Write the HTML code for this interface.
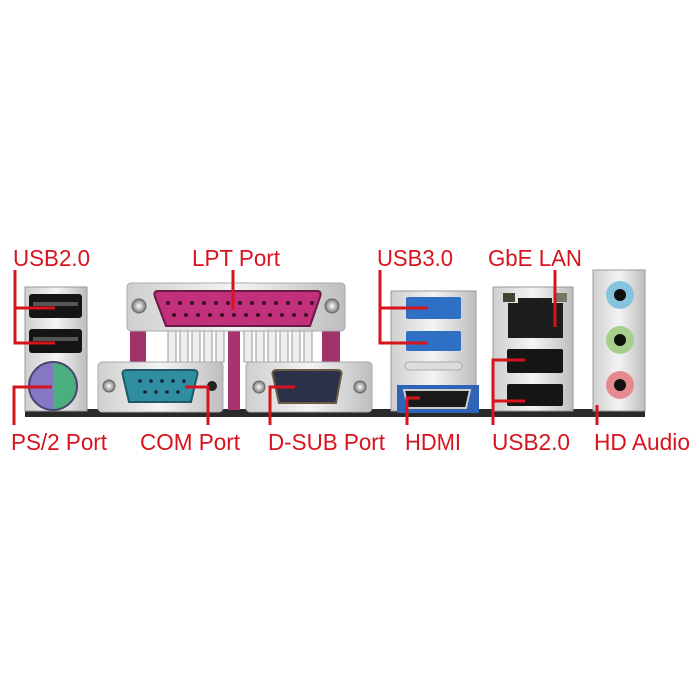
<!DOCTYPE html>
<html><head><meta charset="utf-8"><style>
html,body{margin:0;padding:0;background:#fff;width:700px;height:700px;overflow:hidden}
svg{display:block}
text{font-family:"Liberation Sans",sans-serif;fill:#d7131d;font-size:23px}
</style></head><body>
<svg width="700" height="700" viewBox="0 0 700 700" xmlns="http://www.w3.org/2000/svg">
<defs>
<linearGradient id="sil" x1="0" y1="0" x2="1" y2="0"><stop offset="0" stop-color="#cfcfcf"/><stop offset=".5" stop-color="#f4f4f4"/><stop offset="1" stop-color="#bdbdbd"/></linearGradient>
<radialGradient id="scr"><stop offset="0" stop-color="#fff"/><stop offset=".5" stop-color="#bbb"/><stop offset="1" stop-color="#777"/></radialGradient>
</defs>
<!-- bottom board strip -->
<rect x="25" y="409" width="620" height="8" fill="#2a2a2a"/>
<!-- left USB/PS2 block -->
<rect x="25" y="287" width="62" height="124" fill="url(#sil)" stroke="#999"/>
<rect x="29" y="294" width="53" height="24" rx="3" fill="#151515"/>
<rect x="33" y="302" width="45" height="4" fill="#555"/>
<rect x="29" y="329" width="53" height="24" rx="3" fill="#151515"/>
<rect x="33" y="337" width="45" height="4" fill="#555"/>
<path d="M53 362 A24 24 0 0 0 53 410 Z" fill="#8577c4"/>
<path d="M53 362 A24 24 0 0 1 53 410 Z" fill="#4aae7e"/>
<circle cx="53" cy="386" r="24" fill="none" stroke="#4a4470" stroke-width="2"/>
<!-- LPT -->
<rect x="130" y="330" width="16" height="35" fill="#a0336a"/>
<rect x="228" y="330" width="12" height="80" fill="#a8336e"/>
<rect x="322" y="330" width="18" height="35" fill="#a0336a"/>
<g fill="#eee" stroke="#999" stroke-width="1">
<rect x="168" y="330" width="8" height="32"/><rect x="180" y="330" width="8" height="32"/><rect x="192" y="330" width="8" height="32"/><rect x="204" y="330" width="8" height="32"/><rect x="216" y="330" width="8" height="32"/>
<rect x="244" y="330" width="8" height="32"/><rect x="256" y="330" width="8" height="32"/><rect x="268" y="330" width="8" height="32"/><rect x="280" y="330" width="8" height="32"/><rect x="292" y="330" width="8" height="32"/><rect x="304" y="330" width="8" height="32"/>
</g>
<rect x="127" y="283" width="218" height="48" rx="4" fill="url(#sil)" stroke="#aaa"/>
<circle cx="139" cy="306" r="7" fill="url(#scr)" stroke="#666"/>
<circle cx="332" cy="306" r="7" fill="url(#scr)" stroke="#666"/>
<path d="M158 291 H317 Q322 291 320 297 L310 326 H166 L155 297 Q153 291 158 291 Z" fill="#c2307c" stroke="#6a1a44" stroke-width="2"/>
<g fill="#3b1024">
<circle cx="168" cy="303" r="2"/><circle cx="180" cy="303" r="2"/><circle cx="192" cy="303" r="2"/><circle cx="204" cy="303" r="2"/><circle cx="216" cy="303" r="2"/><circle cx="228" cy="303" r="2"/><circle cx="240" cy="303" r="2"/><circle cx="252" cy="303" r="2"/><circle cx="264" cy="303" r="2"/><circle cx="276" cy="303" r="2"/><circle cx="288" cy="303" r="2"/><circle cx="300" cy="303" r="2"/><circle cx="312" cy="303" r="2"/>
<circle cx="174" cy="315" r="2"/><circle cx="186" cy="315" r="2"/><circle cx="198" cy="315" r="2"/><circle cx="210" cy="315" r="2"/><circle cx="222" cy="315" r="2"/><circle cx="234" cy="315" r="2"/><circle cx="246" cy="315" r="2"/><circle cx="258" cy="315" r="2"/><circle cx="270" cy="315" r="2"/><circle cx="282" cy="315" r="2"/><circle cx="294" cy="315" r="2"/><circle cx="306" cy="315" r="2"/>
</g>
<!-- COM -->
<rect x="98" y="362" width="125" height="50" rx="4" fill="url(#sil)" stroke="#aaa"/>
<circle cx="109" cy="386" r="6" fill="url(#scr)" stroke="#666"/>
<circle cx="212" cy="386" r="5" fill="#222"/>
<path d="M127 370 H193 Q199 370 197 376 L191 402 H129 L123 376 Q121 370 127 370 Z" fill="#2f8ea0" stroke="#1f5a66" stroke-width="2"/>
<g fill="#123">
<circle cx="140" cy="381" r="1.8"/><circle cx="151" cy="381" r="1.8"/><circle cx="162" cy="381" r="1.8"/><circle cx="173" cy="381" r="1.8"/><circle cx="184" cy="381" r="1.8"/>
<circle cx="145" cy="392" r="1.8"/><circle cx="156" cy="392" r="1.8"/><circle cx="167" cy="392" r="1.8"/><circle cx="178" cy="392" r="1.8"/>
</g>
<!-- D-SUB -->
<rect x="246" y="362" width="126" height="50" rx="4" fill="url(#sil)" stroke="#aaa"/>
<circle cx="259" cy="387" r="6" fill="url(#scr)" stroke="#666"/>
<circle cx="360" cy="387" r="6" fill="url(#scr)" stroke="#666"/>
<path d="M277 370 H337 Q343 370 341 376 L336 403 H279 L273 376 Q271 370 277 370 Z" fill="#2b3148" stroke="#6b5a45" stroke-width="2"/>
<!-- USB3 -->
<rect x="391" y="291" width="85" height="120" fill="url(#sil)" stroke="#999"/>
<rect x="406" y="297" width="55" height="22" rx="2" fill="#2f6fc4"/>
<rect x="406" y="331" width="55" height="20" rx="2" fill="#2f6fc4"/>
<rect x="405" y="362" width="57" height="8" rx="4" fill="#ddd" stroke="#aaa"/>
<rect x="397" y="385" width="82" height="28" fill="#2d64b8"/>
<path d="M404 390 H470 L466 408 H408 Z" fill="#1a1a1a" stroke="#ccc" stroke-width="2"/>
<!-- LAN/USB -->
<rect x="493" y="287" width="80" height="124" fill="url(#sil)" stroke="#999"/>
<rect x="503" y="293" width="12" height="9" fill="#443"/><rect x="555" y="293" width="12" height="9" fill="#776"/>
<path d="M508 303 H518 V298 H552 V303 H563 V338 H508 Z" fill="#1d1d1d"/>
<rect x="507" y="349" width="56" height="24" rx="2" fill="#151515"/>
<rect x="507" y="384" width="56" height="22" rx="2" fill="#151515"/>
<!-- audio -->
<rect x="593" y="270" width="52" height="141" fill="url(#sil)" stroke="#999"/>
<circle cx="620" cy="295" r="14" fill="#86c4de"/><circle cx="620" cy="295" r="6" fill="#111"/>
<circle cx="620" cy="340" r="14" fill="#a7cf8c"/><circle cx="620" cy="340" r="6" fill="#111"/>
<circle cx="620" cy="385" r="14" fill="#e48a8e"/><circle cx="620" cy="385" r="6" fill="#111"/>
<!-- leader lines -->
<g stroke="#d7131d" stroke-width="3" fill="none">
<path d="M15 270 V343 H55 M15 308 H55"/>
<path d="M14 425 V387 H52"/>
<path d="M233 270 V310"/>
<path d="M185 387 H208 V425"/>
<path d="M295 387 H270 V425"/>
<path d="M380 270 V343 H428 M380 308 H428"/>
<path d="M407 425 V398 H420"/>
<path d="M555 270 V327"/>
<path d="M525 360 H493 V425 M493 401 H525"/>
<path d="M597 405 V425"/>
</g>
<!-- labels -->
<text x="13" y="266" textLength="77" lengthAdjust="spacingAndGlyphs">USB2.0</text>
<text x="192" y="266" textLength="88" lengthAdjust="spacingAndGlyphs">LPT Port</text>
<text x="377" y="266" textLength="76" lengthAdjust="spacingAndGlyphs">USB3.0</text>
<text x="488" y="266" textLength="94" lengthAdjust="spacingAndGlyphs">GbE LAN</text>
<text x="11" y="450" textLength="96" lengthAdjust="spacingAndGlyphs">PS/2 Port</text>
<text x="140" y="450" textLength="100" lengthAdjust="spacingAndGlyphs">COM Port</text>
<text x="268" y="450" textLength="117" lengthAdjust="spacingAndGlyphs">D-SUB Port</text>
<text x="405" y="450" textLength="56" lengthAdjust="spacingAndGlyphs">HDMI</text>
<text x="492" y="450" textLength="78" lengthAdjust="spacingAndGlyphs">USB2.0</text>
<text x="594" y="450" textLength="96" lengthAdjust="spacingAndGlyphs">HD Audio</text>
</svg>
</body></html>
